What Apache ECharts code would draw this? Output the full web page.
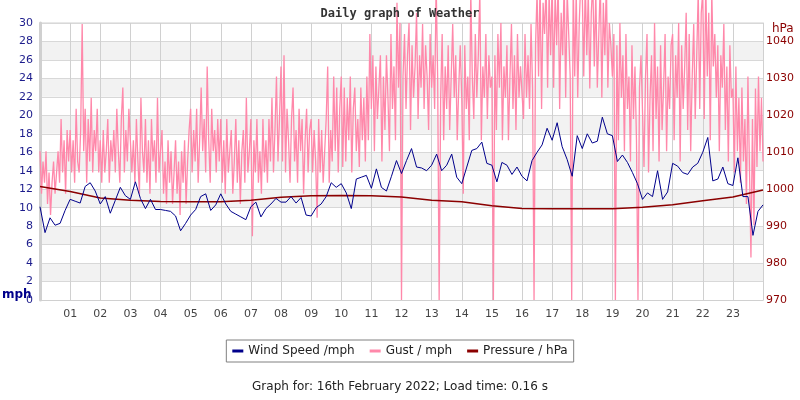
<!DOCTYPE html>
<html>
<head>
<meta charset="utf-8">
<script src="https://cdn.jsdelivr.net/npm/echarts@6/dist/echarts.min.js"></script>
<style>
  html, body { margin: 0; padding: 0; background: #fff; }
  #main { width: 800px; height: 400px; }
</style>
</head>
<body>
<div id="main"></div>
<script>
// wind speed, mph, every 10 min from 00:00 to 24:00
const windSpeed = [
  10.1, 7.3, 8.9, 8.1, 8.3, 9.7,
  10.9, 10.7, 10.5, 12.3, 12.7, 11.8,
  10.4, 11.2, 9.4, 10.8, 12.2, 11.3,
  10.9, 12.8, 11.0, 9.9, 10.9, 9.8,
  9.8, 9.7, 9.6, 9.1, 7.5, 8.3,
  9.2, 9.8, 11.2, 11.5, 9.7, 10.3,
  11.5, 10.4, 9.6, 9.3, 9.0, 8.7,
  10.1, 10.6, 9.0, 9.9, 10.4, 11.0,
  10.6, 10.6, 11.2, 10.5, 11.1, 9.2,
  9.1, 10.0, 10.4, 11.2, 12.7, 12.2,
  12.6, 11.6, 9.9, 13.1, 13.3, 13.5,
  12.1, 14.2, 12.2, 11.8, 13.4, 15.1,
  13.7, 15.1, 16.4, 14.4, 14.3, 14.0,
  14.6, 15.8, 14.0, 14.6, 15.8, 13.3,
  12.6, 14.4, 16.2, 16.4, 17.1, 14.8,
  14.6, 12.8, 14.9, 14.6, 13.6, 14.4,
  13.4, 12.9, 15.1, 16.0, 16.8, 18.6,
  17.3, 19.2, 16.6, 15.2, 13.4, 17.8,
  16.4, 18.0, 17.0, 17.2, 19.8, 18.0,
  17.8, 15.0, 15.7, 14.9, 13.8, 12.6,
  10.9, 11.6, 11.2, 14.0, 10.9, 11.7,
  14.8, 14.5, 13.8, 13.6, 14.4, 14.8,
  16.0, 17.6, 12.9, 13.1, 14.4, 12.6,
  12.4, 15.4, 11.2, 11.2, 7.0, 9.6,
  10.3
]

// gust, mph, every 3 min from 00:00 to 24:00 (one row per hour)
const gust = [
  16.1, 11.5, 15.0, 12.7, 16.1, 10.4, 13.8, 9.2, 12.7, 15.0, 11.5, 13.8, 16.1, 12.7, 19.6, 13.8, 17.3, 11.5, 18.4, 15.0,
  18.4, 13.8, 17.3, 12.7, 20.7, 15.0, 13.8, 18.4, 29.9, 16.1, 20.7, 12.7, 19.6, 15.0, 21.9, 13.8, 18.4, 16.1, 20.7, 13.8,
  17.3, 12.7, 18.4, 13.8, 16.1, 19.6, 12.7, 17.3, 15.0, 18.4, 13.8, 20.7, 16.1, 12.7, 19.6, 23.0, 13.8, 18.4, 15.0, 20.7,
  20.7, 13.8, 17.3, 12.7, 19.6, 15.0, 11.5, 21.9, 16.1, 13.8, 19.6, 12.7, 17.3, 11.5, 19.6, 15.0, 17.3, 12.7, 21.9, 13.8,
  16.1, 18.4, 11.5, 15.0, 10.4, 17.3, 12.7, 16.1, 10.4, 13.8, 17.3, 11.5, 15.0, 9.2, 16.1, 12.7, 17.3, 10.4, 15.0, 18.4,
  20.7, 13.8, 18.4, 15.0, 20.7, 12.7, 17.3, 23.0, 16.1, 19.6, 13.8, 25.3, 17.3, 12.7, 20.7, 16.1, 18.4, 13.8, 19.6, 15.0,
  19.6, 12.7, 17.3, 11.5, 19.6, 13.8, 16.1, 18.4, 11.5, 15.0, 19.6, 12.7, 17.3, 10.4, 16.1, 18.4, 12.7, 21.9, 13.8, 16.1,
  19.6, 6.9, 17.3, 13.8, 19.6, 12.7, 16.1, 11.5, 19.6, 13.8, 17.3, 12.7, 19.6, 15.0, 21.9, 13.8, 18.4, 24.2, 15.0, 19.6,
  25.3, 15.0, 26.5, 13.8, 20.7, 17.3, 12.7, 19.6, 23.0, 15.0, 18.4, 12.7, 20.7, 16.1, 19.6, 11.5, 17.3, 20.7, 13.8, 18.4,
  19.6, 13.8, 18.4, 15.0, 8.9, 19.6, 13.8, 18.4, 12.7, 16.1, 19.6, 25.3, 12.7, 18.4, 15.0, 24.2, 16.1, 23.0, 13.8, 20.7,
  24.2, 14.4, 23.0, 15.0, 21.9, 17.3, 24.2, 13.8, 20.7, 23.0, 16.1, 19.6, 14.4, 23.0, 17.3, 21.9, 15.0, 24.2, 17.3, 28.8,
  20.7, 26.5, 16.1, 25.3, 19.6, 23.0, 26.5, 15.0, 24.2, 18.4, 26.5, 21.9, 16.1, 28.8, 20.7, 25.3, 17.3, 32.2, 23.0, 30.0,
  0, 24.2, 28.8, 20.7, 26.5, 30.0, 18.4, 27.6, 21.9, 25.3, 31.1, 19.6, 26.5, 23.0, 29.9, 20.7, 27.6, 24.2, 18.4, 28.8,
  23.0, 26.5, 20.7, 34.5, 24.2, 0, 21.9, 28.8, 17.3, 25.3, 20.7, 27.6, 18.4, 24.2, 29.9, 21.9, 26.5, 17.3, 23.0, 27.6,
  21.9, 11.5, 27.6, 20.7, 24.2, 17.3, 33.4, 24.2, 19.6, 28.8, 21.9, 26.5, 33.4, 17.3, 25.3, 21.9, 28.8, 19.6, 26.5, 23.0,
  24.2, 0, 26.5, 18.4, 28.8, 23.0, 30.0, 17.3, 25.3, 21.9, 27.6, 17.3, 24.2, 29.9, 20.7, 26.5, 18.4, 28.8, 21.9, 25.3,
  25.3, 19.6, 28.8, 21.9, 26.5, 20.7, 29.9, 23.0, 0, 27.6, 33.4, 24.2, 34.5, 20.7, 32.2, 28.8, 34.5, 23.0, 33.4, 26.5,
  34.5, 23.0, 33.4, 27.6, 34.5, 20.7, 31.1, 26.5, 34.5, 21.9, 33.4, 28.8, 24.2, 0, 34.5, 24.2, 33.4, 21.9, 30.0, 34.5,
  33.4, 24.2, 34.5, 26.5, 33.4, 22.9, 31.1, 34.5, 25.3, 33.4, 23.0, 28.8, 34.5, 21.9, 32.2, 26.5, 34.5, 23.0, 30.0, 27.6,
  24.2, 28.8, 0, 27.6, 17.3, 30.0, 21.9, 26.5, 16.1, 28.8, 20.7, 24.2, 15.0, 27.6, 19.6, 25.3, 17.3, 0, 23.0, 26.5,
  26.5, 14.4, 24.2, 28.8, 13.8, 21.9, 26.5, 16.1, 30.0, 19.6, 25.3, 15.0, 27.6, 18.4, 23.0, 28.8, 16.1, 24.2, 20.7, 27.6,
  28.8, 17.3, 26.5, 21.9, 30.0, 15.0, 27.6, 20.7, 25.3, 31.1, 18.4, 28.8, 16.1, 24.2, 29.9, 19.6, 26.5, 33.4, 20.7, 31.1,
  33.4, 19.6, 34.5, 24.2, 31.1, 17.3, 33.4, 25.3, 28.8, 21.9, 27.6, 16.1, 26.5, 23.0, 29.9, 18.4, 25.3, 15.0, 27.6, 21.9,
  22.9, 13.8, 25.3, 16.1, 21.9, 12.7, 23.0, 15.0, 19.6, 10.4, 24.2, 14.4, 4.6, 19.6, 8.1, 22.9, 14.4, 24.2, 16.1, 21.9,
  15.0
]

// pressure, hPa, hourly 00..24
const pressure = [
  1000.7, 999.4, 997.6, 997.0, 996.7, 996.6, 996.6, 997.0, 997.8, 998.2,
  998.3, 998.2, 997.9, 997.0, 996.6, 995.5, 994.8, 994.7, 994.7, 994.7,
  995.1, 995.8, 996.9, 997.9, 999.8
]

const seriesNames = ['Wind Speed /mph', 'Gust / mph', 'Pressure / hPa']

const chart = echarts.init(document.getElementById('main'))

const font = 'DejaVu Sans'
const pad = (v) => (v < 10 ? '0' : '') + v

const option = {
  animation: false,
  backgroundColor: '#fff',
  title: {
    text: 'Daily graph of Weather',
    left: 'center',
    top: 3,
    textStyle: {
      fontFamily: 'DejaVu Sans Mono',
      fontWeight: 'bold',
      fontSize: 12,
      color: '#333'
    }
  },
  legend: {
    data: seriesNames,
    left: 'center',
    top: 340,
    icon: 'rect',
    itemWidth: 11,
    itemHeight: 3,
    itemGap: 15,
    padding: [5, 6],
    borderColor: '#808080',
    borderWidth: 1,
    textStyle: { fontFamily: font, fontSize: 12, color: '#222' }
  },
  graphic: [
    {
      type: 'text', left: 2, top: 289,
      style: { text: 'mph', fill: '#00008b', font: 'bold 12px "DejaVu Sans"' }
    },
    {
      type: 'text', left: 772, top: 23,
      style: { text: 'hPa', fill: '#8b0000', font: '12px "DejaVu Sans"' }
    },
    {
      type: 'text', left: 'center', top: 381,
      style: { text: 'Graph for: 16th February 2022; Load time: 0.16 s', fill: '#222', font: '12px "DejaVu Sans"' }
    }
  ],
  grid: {
    left: 40,
    right: 37,
    top: 23,
    bottom: 100,
    show: true,
    borderColor: '#d0d0d0',
    borderWidth: 1
  },
  xAxis: {
    type: 'value',
    min: 0,
    max: 24,
    interval: 1,
    axisLine: { lineStyle: { color: '#d0d0d0' } },
    axisTick: { show: false },
    splitLine: { lineStyle: { color: '#d0d0d0' } },
    axisLabel: {
      margin: 9,
      fontFamily: font,
      fontSize: 11,
      color: '#444',
      formatter: (v) => (v === 0 || v === 24 ? '' : pad(v))
    }
  },
  yAxis: [
    {
      type: 'value',
      min: 0,
      max: 30,
      interval: 2,
      axisLine: { show: true, lineStyle: { color: '#d0d0d0', width: 3 } },
      axisTick: { show: false },
      splitLine: { lineStyle: { color: '#d8d8d8' } },
      splitArea: { show: true, areaStyle: { color: ['#ffffff', '#f2f2f2'] } },
      axisLabel: { margin: 7, fontFamily: font, fontSize: 11, color: '#1c1c8c' }
    },
    {
      type: 'value',
      min: 970,
      max: 1045,
      interval: 10,
      position: 'right',
      axisLine: { show: true, lineStyle: { color: '#d0d0d0' } },
      axisTick: { show: false },
      splitLine: { show: false },
      axisLabel: {
        margin: 3,
        showMaxLabel: false,
        fontFamily: font,
        fontSize: 11,
        color: '#8b0000',
        formatter: (v) => String(v)
      }
    }
  ],
  series: [
    {
      name: seriesNames[1],
      type: 'line',
      clip: false,
      showSymbol: false,
      color: '#ff88aa',
      lineStyle: { width: 1.3, color: '#ff88aa' },
      data: gust.map((v, i) => [i / 20, v])
    },
    {
      name: seriesNames[2],
      type: 'line',
      yAxisIndex: 1,
      showSymbol: false,
      color: '#8b0000',
      lineStyle: { width: 1.5, color: '#8b0000' },
      data: pressure.map((v, i) => [i, v])
    },
    {
      name: seriesNames[0],
      type: 'line',
      showSymbol: false,
      color: '#00008b',
      lineStyle: { width: 1, color: '#00008b' },
      data: windSpeed.map((v, i) => [i / 6, v])
    }
  ]
}

chart.setOption(option)
</script>
</body>
</html>
